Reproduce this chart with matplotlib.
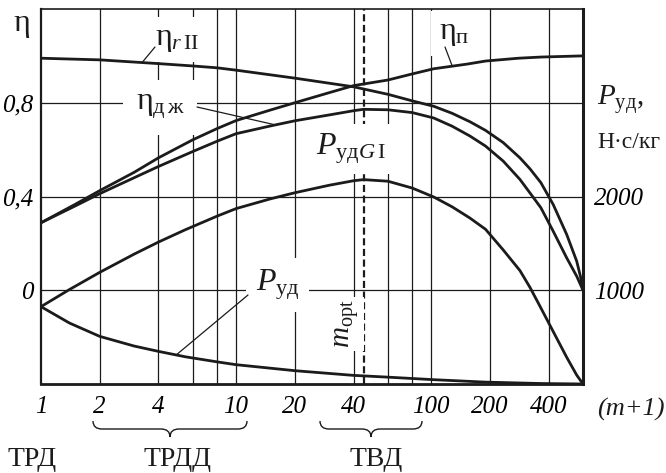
import matplotlib
matplotlib.use("Agg")
import matplotlib.pyplot as plt
from matplotlib.path import Path
from matplotlib.patches import PathPatch
from matplotlib.ticker import NullLocator

plt.rcParams['font.family'] = ['Liberation Serif', 'DejaVu Serif']
plt.rcParams['mathtext.fontset'] = 'custom'
plt.rcParams['mathtext.rm'] = 'Liberation Serif'
plt.rcParams['mathtext.it'] = 'Liberation Serif:italic'
plt.rcParams['mathtext.bf'] = 'Liberation Serif:bold'

INK = '#1b1b1b'
W, H = 666, 473

# (m+1) axis
x_ticks = [1, 2, 4, 10, 20, 40, 100, 200, 400]
x_grid = [2, 4, 6, 8, 10, 20, 40, 60, 80, 100, 200, 400]
y_grid = [0, 0.4, 0.8]
y_labels = ['0', '0,4', '0,8']
p_ticks = [1000, 2000]
m_opt = 45

# efficiencies, left axis
x_eta_r = [1, 2, 4, 6, 8, 10, 20, 40, 60, 80, 103, 128, 158, 190, 234, 285, 321, 365,
           422, 495, 557, 582, 600]
eta_r = [0.99, 0.983, 0.967, 0.957, 0.949, 0.939, 0.905, 0.868, 0.836, 0.808, 0.785, 0.755,
         0.719, 0.682, 0.63, 0.565, 0.518, 0.459, 0.366, 0.238, 0.124, 0.06, 0.0]

x_eta_p = [1, 1.5, 2, 3, 4, 6, 8, 10, 15, 20, 30, 40, 60, 80, 103, 153, 190, 280, 365, 600]
eta_p = [0.288, 0.367, 0.425, 0.503, 0.565, 0.642, 0.69, 0.724, 0.769, 0.80, 0.843, 0.873,
         0.897, 0.923, 0.945, 0.965, 0.978, 0.99, 0.995, 1.0]

x_eta_j = [1, 1.5, 2, 3, 4, 6, 8, 10, 15, 20, 30, 40, 45, 60, 80, 103, 128, 158, 190, 234,
           285, 321, 365, 422, 495, 557, 600]
eta_j = [0.288, 0.36, 0.412, 0.48, 0.528, 0.592, 0.636, 0.668, 0.701, 0.723, 0.748, 0.766,
         0.772, 0.77, 0.758, 0.735, 0.70, 0.658, 0.615, 0.551, 0.473, 0.415, 0.352, 0.252,
         0.138, 0.06, 0.0]

# specific thrust, right axis, N*s/kg
x_pg = [1, 1.4, 2, 3, 4, 5.5, 8, 10, 15, 20, 30, 40, 45, 60, 80, 103, 128, 158, 190, 234,
        285, 321, 365, 422, 495, 557, 600]
p_g = [825, 1008, 1191, 1385, 1514, 1646, 1791, 1871, 1975, 2040, 2120, 2168, 2180, 2163,
       2090, 1995, 1890, 1770, 1650, 1430, 1210, 1030, 811, 560, 285, 95, 0]

x_p = [1, 1.4, 2, 3, 4, 5.5, 8, 10, 20, 40, 60, 103, 190, 365, 600]
p_ud = [825, 650, 508, 405, 348, 290, 236, 206, 142, 92, 73, 46, 20, 5, 0]

eta_lim = (-0.4, 1.2)


def fpos(px, py):
    return px / W, 1 - py / H


def to_p(e):
    return 1000 + 2500 * e


def brace(fig, x0, x1, top, cusp, r=9):
    mid = (top + cusp) / 2
    xm = (x0 + x1) / 2
    pts = [(x0, top), (x0, mid), (x0 + r, mid), (xm - r, mid), (xm, mid), (xm, cusp),
           (xm, mid), (xm + r, mid), (x1 - r, mid), (x1, mid), (x1, top)]
    codes = [Path.MOVETO, Path.CURVE3, Path.CURVE3, Path.LINETO, Path.CURVE3, Path.CURVE3,
             Path.CURVE3, Path.CURVE3, Path.LINETO, Path.CURVE3, Path.CURVE3]
    path = Path([fpos(px, py) for px, py in pts], codes)
    fig.add_artist(PathPatch(path, transform=fig.transFigure, fill=False, lw=1.0, ec=INK))


fig = plt.figure(figsize=(W / 100, H / 100), dpi=100)
ax = fig.add_axes([41 / W, 1 - 384 / H, 542 / W, 375 / H])
ax.set_xscale('log')
ax.set_xlim(1, 600)
ax.set_ylim(*eta_lim)
ax.xaxis.set_minor_locator(NullLocator())

for v in x_grid:
    ax.axvline(v, color=INK, lw=0.9, zorder=1)
for v in y_grid:
    ax.axhline(v, color=INK, lw=0.9, zorder=1)
ax.axvline(m_opt, color=INK, lw=1.6, ls=(0, (3.2, 1.6)), zorder=1.5)

curve = dict(color=INK, lw=2.0, zorder=3, solid_joinstyle='round', solid_capstyle='round')
ax.plot(x_eta_r, eta_r, **curve)
ax.plot(x_eta_p, eta_p, **curve)
ax.plot(x_eta_j, eta_j, **curve)

ax.set_xticks(x_ticks)
ax.set_xticklabels([str(v) for v in x_ticks], fontstyle='italic', fontsize=18)
ax.set_yticks(y_grid)
ax.set_yticklabels(y_labels, fontstyle='italic', fontsize=18)
ax.tick_params(axis='x', length=0, pad=8.5)
ax.tick_params(axis='y', length=0, pad=5.5)
ax.spines['left'].set_linewidth(1.6)
ax.spines['bottom'].set_linewidth(2.0)
ax.spines['top'].set_linewidth(1.2)
ax.spines['right'].set_visible(False)
for s in ax.spines.values():
    s.set_color(INK)

ax2 = ax.twinx()
ax2.set_ylim(to_p(eta_lim[0]), to_p(eta_lim[1]))
ax2.plot(x_pg, p_g, **curve)
ax2.plot(x_p, p_ud, **curve)
ax2.set_yticks(p_ticks)
ax2.set_yticklabels([str(v) for v in p_ticks], fontstyle='italic', fontsize=18)
ax2.tick_params(axis='y', length=0, pad=8)
for side in ['left', 'top', 'bottom']:
    ax2.spines[side].set_visible(False)
ax2.spines['right'].set_linewidth(2.2)
ax2.spines['right'].set_color(INK)

# curve labels with white boxes that break the grid
box = dict(fc='white', ec='none', boxstyle='square,pad=0.25')
lab = dict(transform=fig.transFigure, zorder=2, ha='left', va='baseline', fontsize=23, color=INK)
ax.text(*fpos(155, 45), r'$\mathrm{η}_{r\,\mathrm{II}}$', bbox=box, **lab)
ax.text(*fpos(136, 111), r'$\mathrm{η}_{\mathrm{д\,ж}}$',
        bbox=dict(fc='white', ec='none', boxstyle='square,pad=0.4'), **lab)
ax.text(*fpos(439, 39), r'$\mathrm{η}_{\mathrm{п}}$', bbox=box, **lab)
ax.text(*fpos(316, 155), r'$P_{\mathrm{уд}G\,\mathrm{I}}$', bbox=box, **lab)
ax.text(*fpos(256, 291), r'$P_{\mathrm{уд}}$',
        bbox=dict(fc='white', ec='none', boxstyle='square,pad=0.3'), **lab)
ax.text(*fpos(347, 324), r'$m_{\mathrm{opt}}$', transform=fig.transFigure, zorder=2,
        rotation=90, ha='center', va='center', fontsize=21, color=INK,
        bbox=dict(fc='white', ec='none', boxstyle='square,pad=0.1'))

leader = dict(arrowstyle='-', lw=0.9, color=INK, shrinkA=0, shrinkB=0)
ax.annotate('', xy=(3.3, 0.972), xytext=fpos(155, 47), textcoords='figure fraction',
            arrowprops=leader, zorder=4)
ax.annotate('', xy=(16, 0.705), xytext=fpos(197, 107), textcoords='figure fraction',
            arrowprops=leader, zorder=4)
ax.annotate('', xy=(128, 0.958), xytext=fpos(445, 47), textcoords='figure fraction',
            arrowprops=leader, zorder=4)
ax2.annotate('', xy=(4.9, 305), xytext=fpos(248, 295), textcoords='figure fraction',
             arrowprops=leader, zorder=4)

# axis titles and units
fig.text(*fpos(13, 31), 'η', fontsize=23, color=INK, ha='left', va='baseline')
fig.text(*fpos(597, 105), r'$P_{\mathrm{уд}}$,', fontsize=21, color=INK, ha='left', va='baseline')
fig.text(*fpos(597, 148), 'Н·с/кг', fontsize=17, color=INK, ha='left', va='baseline')
fig.text(*fpos(597, 409), '(m+1)', fontsize=19, fontstyle='italic', color=INK,
         ha='left', va='center')

# engine type ranges
brace(fig, 93, 247, 421, 437)
brace(fig, 320, 422, 421, 437)
fig.text(*fpos(32, 466), 'ТРД', fontsize=20, color=INK, ha='center', va='baseline')
fig.text(*fpos(177, 466), 'ТРДД', fontsize=20, color=INK, ha='center', va='baseline')
fig.text(*fpos(376, 466), 'ТВД', fontsize=20, color=INK, ha='center', va='baseline')

fig.savefig('out.png', dpi=100)
